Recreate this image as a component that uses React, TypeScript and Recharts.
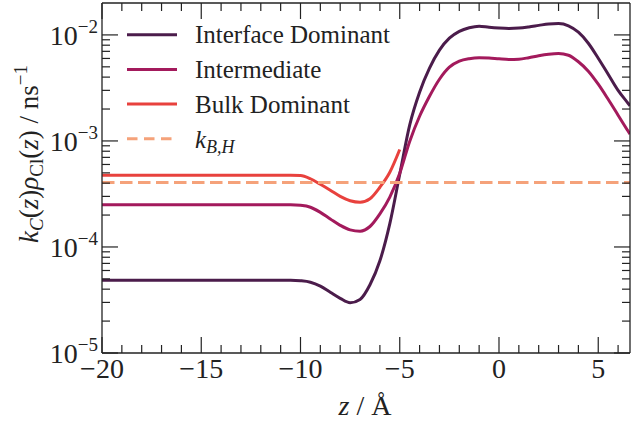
import { LineChart, Line, XAxis, YAxis, ReferenceLine, Legend } from "recharts";

// z positions (Å)
const zValues = [
  -20, -19.5, -19, -18.5, -18, -17.5, -17, -16.5, -16, -15.5, -15, -14.5, -14, -13.5, -13, -12.5, -12, -11.5, -11, -10.5,
  -10, -9.5, -9, -8.5, -8, -7.5, -7, -6.5, -6, -5.5, -5, -4.5, -4, -3.5, -3, -2.5, -2, -1.5, -1, -0.5,
  0, 0.5, 1, 1.5, 2, 2.5, 3, 3.5, 4, 4.5, 5, 5.5, 6, 6.5, 6.6,
];

const interfaceDominant = [
  4.85e-5, 4.85e-5, 4.85e-5, 4.85e-5, 4.85e-5, 4.85e-5, 4.85e-5, 4.85e-5, 4.85e-5, 4.85e-5,
  4.85e-5, 4.85e-5, 4.85e-5, 4.85e-5, 4.85e-5, 4.85e-5, 4.85e-5, 4.85e-5, 4.85e-5, 4.85e-5,
  4.8e-5, 4.65e-5, 4.27e-5, 3.74e-5, 3.28e-5, 2.98e-5, 3.2e-5, 4.4e-5, 7.4e-5, 1.66e-4,
  4.85e-4, 1.41e-3, 2.88e-3, 4.86e-3, 7.18e-3, 9.31e-3, 1.08e-2, 1.17e-2, 1.21e-2, 1.18e-2,
  1.16e-2, 1.15e-2, 1.16e-2, 1.19e-2, 1.23e-2, 1.27e-2, 1.28e-2, 1.22e-2, 1.06e-2, 8.35e-3,
  6.03e-3, 4.26e-3, 3.0e-3, 2.27e-3, 2.15e-3,
];

const intermediate = [
  2.5e-4, 2.5e-4, 2.5e-4, 2.5e-4, 2.5e-4, 2.5e-4, 2.5e-4, 2.5e-4, 2.5e-4, 2.5e-4,
  2.5e-4, 2.5e-4, 2.5e-4, 2.5e-4, 2.5e-4, 2.5e-4, 2.5e-4, 2.5e-4, 2.5e-4, 2.5e-4,
  2.47e-4, 2.37e-4, 2.12e-4, 1.84e-4, 1.6e-4, 1.45e-4, 1.41e-4, 1.56e-4, 2.05e-4, 2.95e-4,
  4.95e-4, 9.9e-4, 1.71e-3, 2.64e-3, 3.82e-3, 4.96e-3, 5.65e-3, 5.97e-3, 6.1e-3, 6.05e-3,
  5.95e-3, 5.87e-3, 5.9e-3, 6.1e-3, 6.37e-3, 6.58e-3, 6.68e-3, 6.43e-3, 5.58e-3, 4.55e-3,
  3.43e-3, 2.47e-3, 1.75e-3, 1.24e-3, 1.16e-3,
];

// bulk curve stops at z = -5
const bulkDominant = [
  4.74e-4, 4.74e-4, 4.74e-4, 4.74e-4, 4.74e-4, 4.74e-4, 4.74e-4, 4.74e-4, 4.74e-4, 4.74e-4,
  4.74e-4, 4.74e-4, 4.74e-4, 4.74e-4, 4.74e-4, 4.74e-4, 4.74e-4, 4.74e-4, 4.74e-4, 4.74e-4,
  4.72e-4, 4.4e-4, 3.9e-4, 3.43e-4, 3.0e-4, 2.73e-4, 2.64e-4, 2.85e-4, 3.66e-4, 5.07e-4,
  8.3e-4,
];

const kBH = 4.05e-4;

const xTicks = [-20, -19, -18, -17, -16, -15, -14, -13, -12, -11, -10, -9, -8, -7, -6, -5, -4, -3, -2, -1, 0, 1, 2, 3, 4, 5, 6];
const yTicks = [
  1e-5, 2e-5, 3e-5, 4e-5, 5e-5, 6e-5, 7e-5, 8e-5, 9e-5,
  1e-4, 2e-4, 3e-4, 4e-4, 5e-4, 6e-4, 7e-4, 8e-4, 9e-4,
  1e-3, 2e-3, 3e-3, 4e-3, 5e-3, 6e-3, 7e-3, 8e-3, 9e-3,
  1e-2,
];

const COLORS = {
  interface: "#4b1c4b",
  intermediate: "#a31a5c",
  bulk: "#e8413d",
  kbh: "#f5a27a",
};

const INK = "#222";
const FONT = "'Liberation Serif', 'Times New Roman', serif";

const data = zValues.map((z, i) => ({
  z,
  interface: interfaceDominant[i],
  intermediate: intermediate[i],
  bulk: bulkDominant[i] ?? null,
}));

const isMajorX = (v: number) => v % 5 === 0;
const isMajorY = (v: number) => Math.abs(Math.log10(v) - Math.round(Math.log10(v))) < 1e-9;

const XTick = ({ x, y, payload, side }: any) => {
  const major = isMajorX(payload.value);
  const len = major ? 16 : 8;
  if (side === "top") {
    return <line x1={x} x2={x} y1={y} y2={y + len} stroke={INK} strokeWidth={1.2} />;
  }
  return (
    <g>
      <line x1={x} x2={x} y1={y - len} y2={y} stroke={INK} strokeWidth={1.2} />
      {major && (
        <text x={x} y={y + 25} textAnchor="middle" fontSize={28} fontFamily={FONT} fill={INK}>
          {String(payload.value).replace("-", "\u2212")}
        </text>
      )}
    </g>
  );
};

const YTick = ({ x, y, payload, side }: any) => {
  const major = isMajorY(payload.value);
  const len = major ? 16 : 8;
  if (side === "right") {
    return <line x1={x - len} x2={x} y1={y} y2={y} stroke={INK} strokeWidth={1.2} />;
  }
  const exp = Math.round(Math.log10(payload.value));
  return (
    <g>
      <line x1={x} x2={x + len} y1={y} y2={y} stroke={INK} strokeWidth={1.2} />
      {major && (
        <text x={x - 4} y={y + 10} textAnchor="end" fontSize={28} fontFamily={FONT} fill={INK}>
          <tspan>10</tspan>
          <tspan fontSize={19} dy={-12}>{"\u2212" + Math.abs(exp)}</tspan>
        </text>
      )}
    </g>
  );
};

const legendItems = [
  { key: "interface", label: "Interface Dominant", color: COLORS.interface, dashed: false },
  { key: "intermediate", label: "Intermediate", color: COLORS.intermediate, dashed: false },
  { key: "bulk", label: "Bulk Dominant", color: COLORS.bulk, dashed: false },
  { key: "kbh", label: "k", color: COLORS.kbh, dashed: true },
];

const LegendBox = () => (
  <svg width={300} height={150} style={{ display: "block" }}>
    {legendItems.map((item, i) => {
      const cy = 16.7 + i * 34.7;
      return (
        <g key={item.key}>
          <line
            x1={7}
            x2={57}
            y1={cy}
            y2={cy}
            stroke={item.color}
            strokeWidth={3}
            strokeDasharray={item.dashed ? "10.5 6.5" : undefined}
          />
          <text x={75} y={cy + 8.7} fontSize={25} fontFamily={FONT} fill={INK}>
            {item.key === "kbh" ? (
              <>
                <tspan fontStyle="italic">k</tspan>
                <tspan fontStyle="italic" fontSize={18} dy={5}>B,H</tspan>
              </>
            ) : (
              item.label
            )}
          </text>
        </g>
      );
    })}
  </svg>
);

const YLabel = () => (
  <text
    x={38}
    y={154}
    transform="rotate(-90, 38, 154)"
    textAnchor="middle"
    fontSize={27}
    fontFamily={FONT}
    fill={INK}
  >
    <tspan fontStyle="italic">k</tspan>
    <tspan fontStyle="italic" fontSize={19} dy={5}>C</tspan>
    <tspan dy={-5}>(</tspan>
    <tspan fontStyle="italic">z</tspan>
    <tspan>)</tspan>
    <tspan fontStyle="italic">ρ</tspan>
    <tspan fontSize={19} dy={5}>Cl</tspan>
    <tspan dy={-5}>(</tspan>
    <tspan fontStyle="italic">z</tspan>
    <tspan>) / ns</tspan>
    <tspan fontSize={19} dy={-11}>{"\u22121"}</tspan>
  </text>
);

const XLabel = () => (
  <text x={365} y={415} textAnchor="middle" fontSize={28} fontFamily={FONT} fill={INK}>
    <tspan fontStyle="italic">z</tspan>
    <tspan>{"  /  Å"}</tspan>
  </text>
);

export default function App() {
  return (
    <div style={{ width: 631, height: 428, background: "#fff" }}>
      <style>{"body{margin:0}"}</style>
      <LineChart width={631} height={428} data={data} margin={{ top: 2, right: 0, left: 0, bottom: 0 }}>
        <XAxis
          xAxisId="b"
          dataKey="z"
          type="number"
          domain={[-20, 6.6]}
          allowDataOverflow
          ticks={xTicks}
          interval={0}
          tickSize={0}
          tickMargin={0}
          tick={<XTick side="bottom" />}
          axisLine={{ stroke: INK, strokeWidth: 1.3 }}
          height={75}
          label={{ content: () => <XLabel /> }}
        />
        <XAxis
          xAxisId="t"
          dataKey="z"
          type="number"
          orientation="top"
          domain={[-20, 6.6]}
          allowDataOverflow
          ticks={xTicks}
          interval={0}
          tickSize={0}
          tickMargin={0}
          tick={<XTick side="top" />}
          axisLine={{ stroke: INK, strokeWidth: 1.3 }}
          height={1}
        />
        <YAxis
          yAxisId="l"
          type="number"
          scale="log"
          domain={[1e-5, 0.02]}
          allowDataOverflow
          ticks={yTicks}
          interval={0}
          tickSize={0}
          tickMargin={0}
          tick={<YTick side="left" />}
          axisLine={{ stroke: INK, strokeWidth: 1.3 }}
          width={102}
          label={{ content: () => <YLabel /> }}
        />
        <YAxis
          yAxisId="r"
          type="number"
          orientation="right"
          scale="log"
          domain={[1e-5, 0.02]}
          allowDataOverflow
          ticks={yTicks}
          interval={0}
          tickSize={0}
          tickMargin={0}
          tick={<YTick side="right" />}
          axisLine={{ stroke: INK, strokeWidth: 1.3 }}
          width={1}
        />
        <Legend
          layout="horizontal"
          verticalAlign="middle"
          align="center"
          content={() => <LegendBox />}
          wrapperStyle={{ position: "absolute", top: 18, left: 120, width: 300, height: 150 }}
        />
        {/* invisible copy so the mirrored top/right axes get a domain */}
        <Line xAxisId="t" yAxisId="r" type="monotone" dataKey="interface" stroke="none" strokeOpacity={0} dot={false} activeDot={false} legendType="none" isAnimationActive={false} />
        <Line xAxisId="b" yAxisId="l" type="monotone" dataKey="interface" stroke={COLORS.interface} strokeWidth={3} dot={false} activeDot={false} isAnimationActive={false} />
        <Line xAxisId="b" yAxisId="l" type="monotone" dataKey="intermediate" stroke={COLORS.intermediate} strokeWidth={3} dot={false} activeDot={false} isAnimationActive={false} />
        <Line xAxisId="b" yAxisId="l" type="monotone" dataKey="bulk" stroke={COLORS.bulk} strokeWidth={3} dot={false} activeDot={false} isAnimationActive={false} />
        <ReferenceLine xAxisId="b" yAxisId="l" y={kBH} stroke={COLORS.kbh} strokeWidth={3} strokeDasharray="12.5 5.5" />
      </LineChart>
    </div>
  );
}
